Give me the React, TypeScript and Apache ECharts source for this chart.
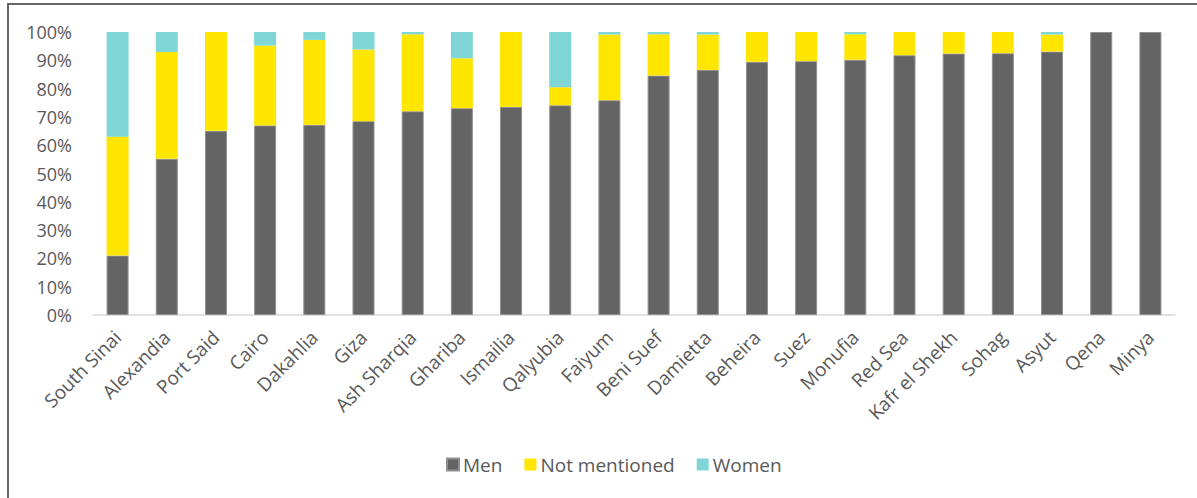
import React, { useEffect, useRef } from "react";
import * as echarts from "echarts";

const categories = [
  "South Sinai", "Alexandia", "Port Said", "Cairo", "Dakahlia", "Giza", "Ash Sharqia",
  "Ghariba", "Ismailia", "Qalyubia", "Faiyum", "Beni Suef", "Damietta", "Beheira",
  "Suez", "Monufia", "Red Sea", "Kafr el Shekh", "Sohag", "Asyut", "Qena", "Minya",
];
const men = [21.0, 55.2, 65.1, 67.0, 67.2, 68.5, 72.0, 73.1, 73.5, 74.1, 75.9, 84.6, 86.6, 89.5, 89.7, 90.2, 91.8, 92.4, 92.5, 93.1, 100, 100];
const notMentioned = [42.0, 37.7, 34.9, 28.2, 30.0, 25.3, 27.2, 17.6, 26.5, 6.4, 23.2, 14.6, 12.5, 10.5, 10.3, 9.0, 8.2, 7.6, 7.5, 6.0, 0, 0];
const women = [37.0, 7.1, 0, 4.8, 2.8, 6.2, 0.8, 9.3, 0, 19.5, 0.9, 0.8, 0.9, 0, 0, 0.8, 0, 0, 0, 0.9, 0, 0];
const seriesNames = ["Men", "Not mentioned", "Women"];
const yTicks = { min: 0, max: 100, interval: 10 };

const FONT = "'Open Sans', sans-serif";
const TEXT = "#595959";

export default function App() {
  const ref = useRef<HTMLDivElement>(null);
  useEffect(() => {
    if (!ref.current) return;
    const chart = echarts.init(ref.current, undefined, { renderer: "svg" });
    const mk = (name: string, data: number[], color: string, border?: string) => ({
      name,
      type: "bar",
      stack: "total",
      barWidth: 22,
      data,
      itemStyle: border ? { color, borderColor: border, borderWidth: 1 } : { color },
    });
    chart.setOption({
      animation: false,
      textStyle: { fontFamily: FONT },
      grid: { left: 93, right: 22, top: 32, bottom: 183 },
      graphic: [
        {
          type: "rect",
          shape: { x: 8, y: 4, width: 1300, height: 600 },
          style: { fill: "none", stroke: "#666666", lineWidth: 2 },
          silent: true,
        },
      ],
      legend: {
        bottom: 19,
        left: 441,
        itemWidth: 12,
        itemHeight: 12,
        itemGap: 22,
        icon: "rect",
        textStyle: { color: TEXT, fontSize: 19, fontFamily: FONT, padding: [0, 0, 0, -1] },
        data: seriesNames,
      },
      xAxis: {
        type: "category",
        data: categories,
        axisLine: { lineStyle: { color: "#D9D9D9", width: 1.5 } },
        axisTick: { show: false },
        axisLabel: {
          rotate: 45,
          interval: 0,
          color: TEXT,
          fontSize: 19,
          fontFamily: FONT,
          margin: 19,
        },
      },
      yAxis: {
        type: "value",
        min: yTicks.min,
        max: yTicks.max,
        interval: yTicks.interval,
        splitLine: { show: false },
        axisLine: { show: false },
        axisTick: { show: false },
        axisLabel: {
          formatter: "{value}%",
          color: TEXT,
          fontSize: 18,
          fontFamily: FONT,
          margin: 21,
        },
      },
      series: [
        mk(seriesNames[0], men, "#646464", "#8f8f8f"),
        mk(seriesNames[1], notMentioned, "#FFE600"),
        mk(seriesNames[2], women, "#80D6D6"),
      ],
    });
    return () => chart.dispose();
  }, []);
  return (
    <div
      ref={ref}
      style={{ position: "fixed", left: 0, top: 0, width: 1197, height: 498, background: "#fff" }}
    />
  );
}
